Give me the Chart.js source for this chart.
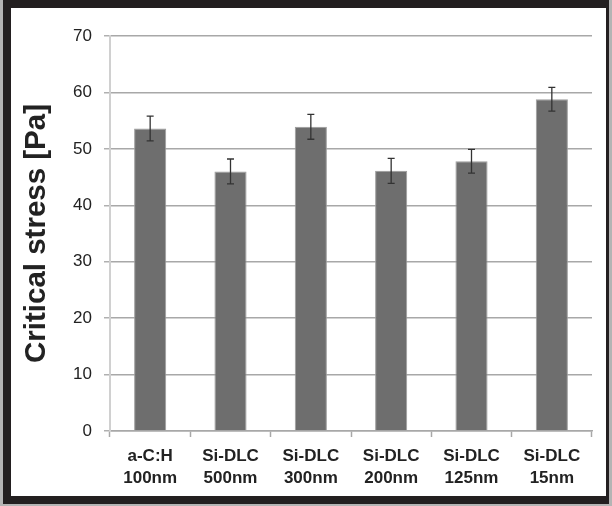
<!DOCTYPE html>
<html lang="en">
<head>
    <meta charset="UTF-8">
    <title>Critical stress</title>
    <script src="https://cdn.jsdelivr.net/npm/chart.js"></script>
    <style>
        body {
            margin: 0;
            background-color: #b4b4b4;
            font-family: Arial, "Liberation Sans", sans-serif;
        }
        .frame {
            position: absolute;
            left: 3px;
            top: 0;
            width: 606px;
            height: 504px;
            background: #231f20;
        }
        canvas {
            position: absolute;
            left: 8px;
            top: 8px;
            background: #fff;
        }
    </style>
</head>
<body>

    <div class="frame">
        <canvas id="stressChart" width="595" height="488"></canvas>
    </div>

    <script>
        // Dados
        const categories = [
            ['a-C:H', '100nm'],
            ['Si-DLC', '500nm'],
            ['Si-DLC', '300nm'],
            ['Si-DLC', '200nm'],
            ['Si-DLC', '125nm'],
            ['Si-DLC', '15nm']
        ];
        const stress = [53.6, 46.0, 53.9, 46.1, 47.8, 58.8];
        const stressError = [2.2, 2.2, 2.2, 2.2, 2.1, 2.1];
        const yTicks = [0, 10, 20, 30, 40, 50, 60, 70];

        // error bars drawn on top of the bars
        const errorBars = {
            id: 'errorBars',
            afterDatasetsDraw(chart) {
                const ctx = chart.ctx;
                const y = chart.scales.y;
                const meta = chart.getDatasetMeta(0);
                ctx.save();
                ctx.strokeStyle = '#333';
                ctx.lineWidth = 1.3;
                meta.data.forEach((bar, i) => {
                    const top = y.getPixelForValue(stress[i] + stressError[i]);
                    const bottom = y.getPixelForValue(stress[i] - stressError[i]);
                    ctx.beginPath();
                    ctx.moveTo(bar.x, top);
                    ctx.lineTo(bar.x, bottom);
                    ctx.moveTo(bar.x - 3.5, top);
                    ctx.lineTo(bar.x + 3.5, top);
                    ctx.moveTo(bar.x - 3.5, bottom);
                    ctx.lineTo(bar.x + 3.5, bottom);
                    ctx.stroke();
                });
                ctx.restore();
            }
        };

        const config = {
            type: 'bar',
            data: {
                labels: categories,
                datasets: [{
                    data: stress,
                    backgroundColor: '#6e6e6e',
                    borderColor: '#9c9c9c',
                    borderWidth: 1,
                    barPercentage: 0.4,
                    categoryPercentage: 1
                }]
            },
            options: {
                responsive: false,
                animation: false,
                devicePixelRatio: 1,
                layout: {
                    padding: { top: 28, right: 14, bottom: 0, left: 0 }
                },
                plugins: {
                    legend: { display: false },
                    tooltip: { enabled: false }
                },
                scales: {
                    x: {
                        grid: {
                            drawOnChartArea: false,
                            drawTicks: true,
                            tickLength: 6,
                            tickColor: '#a8a8a8',
                            tickWidth: 1.5
                        },
                        border: { color: '#a8a8a8', width: 1.5 },
                        ticks: {
                            color: '#222',
                            padding: 8,
                            maxRotation: 0,
                            font: { family: 'Arial, "Liberation Sans"', size: 17, weight: 'bold', lineHeight: 1.3 }
                        },
                        afterFit: (scale) => { scale.height = 65; }
                    },
                    y: {
                        min: 0,
                        max: 70,
                        afterBuildTicks: (scale) => { scale.ticks = yTicks.map(v => ({ value: v })); },
                        grid: {
                            color: '#a8a8a8',
                            lineWidth: 1.5,
                            tickLength: 6,
                            tickColor: '#b0b0b0'
                        },
                        border: { color: '#d0d0d0', width: 2 },
                        ticks: {
                            color: '#222',
                            padding: 12,
                            font: { family: 'Arial, "Liberation Sans"', size: 17 }
                        },
                        title: {
                            display: true,
                            text: 'Critical stress [Pa]',
                            color: '#222',
                            padding: { top: 8, bottom: 0 },
                            font: { family: 'Arial, "Liberation Sans"', size: 29.5, weight: 'bold' }
                        },
                        afterFit: (scale) => { scale.width = 99; }
                    }
                }
            },
            plugins: [errorBars]
        };

        const stressChart = new Chart(document.getElementById('stressChart'), config);
    </script>

</body>
</html>
